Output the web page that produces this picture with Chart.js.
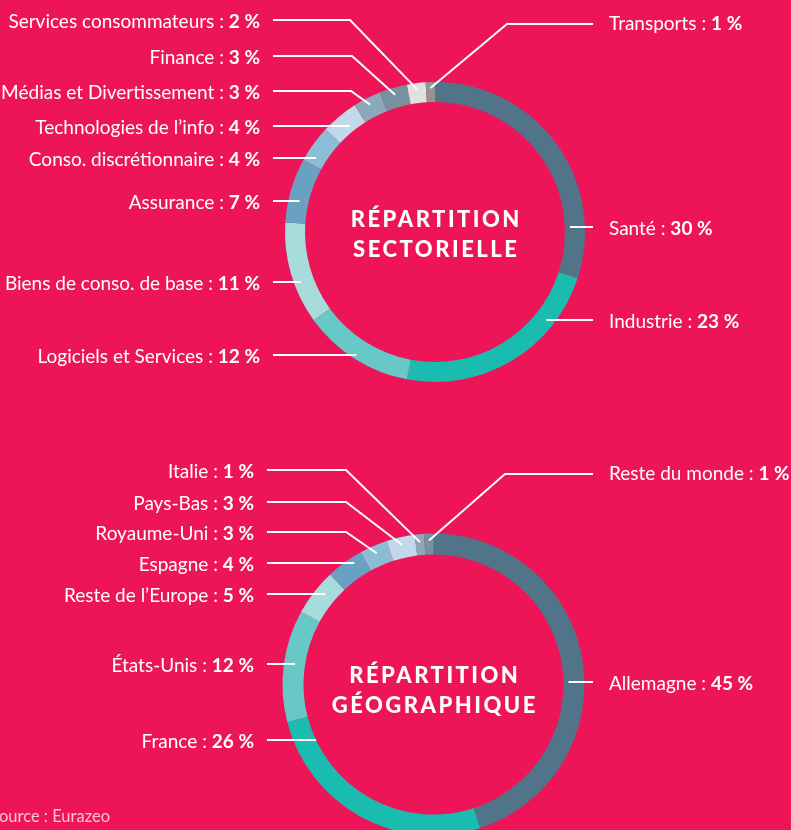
<!DOCTYPE html>
<html><head><meta charset="utf-8">
<script src="https://cdn.jsdelivr.net/npm/chart.js@4/dist/chart.umd.min.js"></script>
<style>
html,body{margin:0;padding:0;width:791px;height:830px;overflow:hidden;background:#ED1558;}
canvas{position:absolute;left:0;top:0;}
</style></head><body>
<canvas id="c1" width="791" height="830"></canvas>
<canvas id="c2" width="791" height="900"></canvas>
<script>
// ---- data ----
const sectorCategories = ['Santé','Industrie','Logiciels et Services','Biens de conso. de base','Assurance','Conso. discrétionnaire','Technologies de l’info','Médias et Divertissement','Finance','Services consommateurs','Transports'];
const sectorValues = [30,23,12,11,7,4,4,3,3,2,1];
const geoCategories = ['Allemagne','France','États-Unis','Reste de l’Europe','Espagne','Royaume-Uni','Pays-Bas','Italie','Reste du monde'];
const geoValues = [45,26,12,5,4,3,3,1,1];
const sectorTitle = ['RÉPARTITION','SECTORIELLE'];
const geoTitle = ['RÉPARTITION','GÉOGRAPHIQUE'];
const sourceText = 'Source : Eurazeo';

// ---- styles / layout ----
const BG = '#ED1558';
const sectorColors = ['#527489','#1abcb0','#68c8c6','#a8dcdc','#6aa0c2','#8dbdd6','#c2d9eb','#8ba9bb','#76919f','#e1e1e1','#949494'];
const geoColors = ['#527489','#1abcb0','#68c8c6','#a8dcdc','#6aa0c2','#8dbdd6','#c2d9eb','#8ba9bb','#76919f'];
const LABEL_FONT = 'Lato';
const LABEL_SIZE = 19;

const sectorLayout = {
  side:  ['R','R','L','L','L','L','L','L','L','L','R'],
  y:     [227,320,355,282,201,158,126,91,56,20,24],
  textDy:[0,0,0,0,0,0,0,0,0,0,-2],
  elbow: [null,null,null,null,null,null,null,351,352,350,507],
  r:     [135,142,146,143,139,140,136,143,143,144,144],
  textX: {L:260, R:609}, lineX: {L:273, R:593},
  titleY: [227,257]
};
const geoLayout = {
  side:  ['R','L','L','L','L','L','L','L','R'],
  y:     [682,740,664,594,563,532,502,470,474],
  textDy:[0,0,0,0,0,0,0,0,-2],
  elbow: [null,null,null,null,null,346,346,346,505],
  r:     [135,130,140,141,145,143,143,143,144],
  textX: {L:254, R:609}, lineX: {L:267, R:593},
  titleY: [683,713]
};

const leaderPlugin = {
  id: 'leaders',
  afterDraw(chart, args, opts) {
    const ctx = chart.ctx;
    const L = opts.layout;
    const meta = chart.getDatasetMeta(0);
    const labels = chart.data.labels;
    const vals = chart.data.datasets[0].data;
    ctx.save();
    ctx.strokeStyle = '#ffffff';
    ctx.lineWidth = 2;
    ctx.lineCap = 'butt';
    let cx = 0, cy = 0;
    meta.data.forEach((arc, i) => {
      const p = arc.getProps(['x','y','startAngle','endAngle'], true);
      cx = p.x; cy = p.y;
      const side = L.side[i], y = L.y[i], r = L.r[i];
      let ax, ay;
      if (L.elbow[i] != null) {
        const a = (p.startAngle + p.endAngle) / 2;
        ax = p.x + Math.cos(a) * r; ay = p.y + Math.sin(a) * r;
      } else {
        const dy = y - p.y;
        const dx = Math.sqrt(Math.max(r*r - dy*dy, 0));
        ax = side === 'L' ? p.x - dx : p.x + dx; ay = y;
      }
      ctx.beginPath();
      ctx.moveTo(L.lineX[side], y);
      if (L.elbow[i] != null) ctx.lineTo(L.elbow[i], y);
      ctx.lineTo(ax, ay);
      ctx.stroke();
      // text
      const normal = labels[i] + ' : ';
      const bold = vals[i] + ' %';
      ctx.fillStyle = '#ffffff';
      ctx.textBaseline = 'middle';
      const ty = y + 1.5 + L.textDy[i];
      ctx.font = `700 ${LABEL_SIZE}px ${LABEL_FONT}`;
      const bw = ctx.measureText(bold).width;
      ctx.font = `400 ${LABEL_SIZE}px ${LABEL_FONT}`;
      const nw = ctx.measureText(normal).width;
      if (side === 'L') {
        const x = L.textX.L;
        ctx.textAlign = 'right';
        ctx.font = `700 ${LABEL_SIZE}px ${LABEL_FONT}`;
        ctx.fillText(bold, x, ty);
        ctx.font = `400 ${LABEL_SIZE}px ${LABEL_FONT}`;
        ctx.fillText(normal, x - bw, ty);
      } else {
        const x = L.textX.R;
        ctx.textAlign = 'left';
        ctx.font = `400 ${LABEL_SIZE}px ${LABEL_FONT}`;
        ctx.fillText(normal, x, ty);
        ctx.font = `700 ${LABEL_SIZE}px ${LABEL_FONT}`;
        ctx.fillText(bold, x + nw, ty);
      }
    });
    // title
    ctx.textAlign = 'center';
    ctx.textBaseline = 'alphabetic';
    ctx.font = `900 22px Lato`;
    try { ctx.letterSpacing = '2.5px'; } catch(e) {}
    opts.title.forEach((t, k) => ctx.fillText(t, cx + 1.25, L.titleY[k]));
    try { ctx.letterSpacing = '0px'; } catch(e) {}
    if (opts.source) {
      ctx.font = `400 16.5px ${LABEL_FONT}`;
      ctx.fillStyle = 'rgba(255,255,255,0.75)';
      ctx.textAlign = 'right';
      ctx.fillText(opts.source, 110, 822);
    }
    ctx.restore();
  }
};

function makeChart(id, labels, values, colors, pad, layout, title, source) {
  return new Chart(document.getElementById(id), {
    type: 'doughnut',
    data: { labels, datasets: [{ data: values, backgroundColor: colors, borderWidth: 0, hoverOffset: 0, offset: 0 }] },
    options: {
      responsive: false, animation: false, events: [],
      cutout: 130, rotation: 0,
      layout: { padding: pad },
      plugins: { legend: { display: false }, tooltip: { enabled: false },
        leaders: { layout, title, source } }
    },
    plugins: [leaderPlugin]
  });
}

makeChart('c1', sectorCategories, sectorValues, sectorColors,
  { left: 285, right: 206, top: 82, bottom: 448 }, sectorLayout, sectorTitle, null);
makeChart('c2', geoCategories, geoValues, geoColors,
  { left: 282.5, right: 206.5, top: 533.5, bottom: 64.5 }, geoLayout, geoTitle, sourceText);
</script>
</body></html>
